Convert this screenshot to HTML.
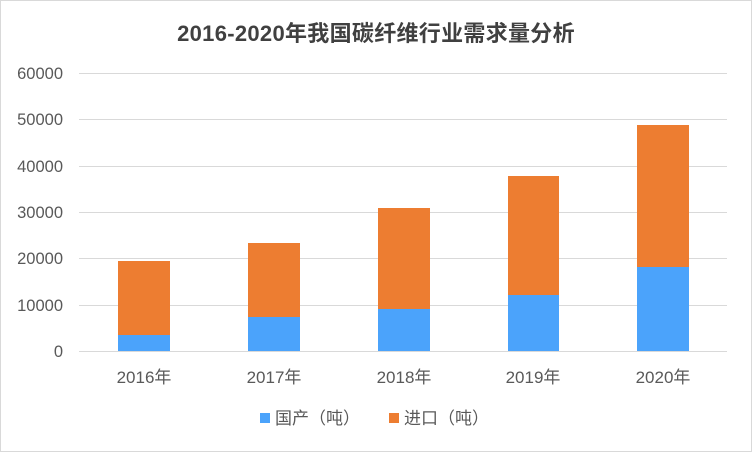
<!DOCTYPE html>
<html><head><meta charset="utf-8"><style>
html,body{margin:0;padding:0;background:#fff;}
svg{display:block;font-family:"Liberation Sans","Noto Sans CJK SC",sans-serif;}
</style></head><body>
<svg width="752" height="452" viewBox="0 0 752 452">
<rect x="0.5" y="0.5" width="751" height="451" fill="#fff" stroke="#d9d9d9"/>
<text x="376" y="41" text-anchor="middle" font-size="22" font-weight="bold" fill="#404040" letter-spacing="0.3">2016-2020年我国碳纤维行业需求量分析</text>
<g stroke="#d9d9d9" stroke-width="1">
<line x1="79" x2="727" y1="73.5" y2="73.5"/>
<line x1="79" x2="727" y1="119.5" y2="119.5"/>
<line x1="79" x2="727" y1="166.5" y2="166.5"/>
<line x1="79" x2="727" y1="212.5" y2="212.5"/>
<line x1="79" x2="727" y1="258.5" y2="258.5"/>
<line x1="79" x2="727" y1="305.5" y2="305.5"/>
<line x1="79" x2="727" y1="351.5" y2="351.5"/>
</g>
<g font-size="16.5" fill="#595959" text-anchor="end">
<text x="63" y="79">60000</text>
<text x="63" y="125">50000</text>
<text x="63" y="172">40000</text>
<text x="63" y="218">30000</text>
<text x="63" y="264">20000</text>
<text x="63" y="311">10000</text>
<text x="63" y="357">0</text>
</g>
<g fill="#ed7d31">
<rect x="118" y="261" width="52" height="74"/>
<rect x="248" y="243" width="52" height="74"/>
<rect x="378" y="208" width="52" height="101"/>
<rect x="508" y="176" width="51" height="119"/>
<rect x="637" y="125" width="52" height="142"/>
</g>
<g fill="#4ba3fb">
<rect x="118" y="335" width="52" height="16"/>
<rect x="248" y="317" width="52" height="34"/>
<rect x="378" y="309" width="52" height="42"/>
<rect x="508" y="295" width="51" height="56"/>
<rect x="637" y="267" width="52" height="84"/>
</g>
<g font-size="17" fill="#595959" text-anchor="middle">
<text x="144" y="383">2016年</text>
<text x="274" y="383">2017年</text>
<text x="404" y="383">2018年</text>
<text x="533" y="383">2019年</text>
<text x="663" y="383">2020年</text>
</g>
<rect x="260" y="413" width="10" height="10" fill="#4ba3fb"/>
<text x="275" y="424" font-size="17" fill="#595959">国产（吨）</text>
<rect x="389" y="413" width="10" height="10" fill="#ed7d31"/>
<text x="404" y="424" font-size="17" fill="#595959">进口（吨）</text>
</svg>
</body></html>
